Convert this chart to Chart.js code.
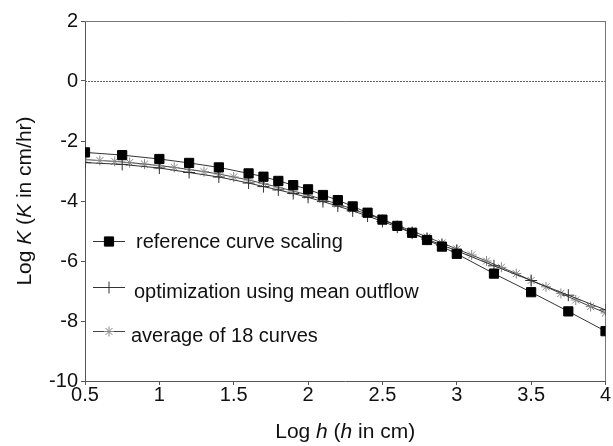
<!DOCTYPE html>
<html>
<head>
<meta charset="utf-8">
<script src="https://cdn.jsdelivr.net/npm/chart.js@4"></script>
<style>
  html, body { margin: 0; padding: 0; background: #fff; }
  #wrap { width: 613px; height: 446px; }
</style>
</head>
<body>
<div id="wrap"><canvas id="conductivityChart" width="613" height="446"></canvas></div>
<script>
// log h positions of the scaled reference curve and the optimized curve
const logH = [0.5, 0.75, 1.0, 1.2, 1.4, 1.6, 1.7, 1.8, 1.9, 2.0, 2.1, 2.2, 2.3, 2.4,
  2.5, 2.6, 2.7, 2.8, 2.9, 3.0, 3.25, 3.5, 3.75, 4.0];
const refScalingK = [-2.38, -2.47, -2.6, -2.73, -2.88, -3.08, -3.19, -3.33, -3.47, -3.61,
  -3.8, -3.97, -4.18, -4.39, -4.62, -4.83, -5.06, -5.3, -5.52, -5.76, -6.42, -7.04, -7.68, -8.34];
const meanOutflowK = [-2.72, -2.78, -2.9, -3.05, -3.2, -3.4, -3.52, -3.63, -3.75, -3.88,
  -4.02, -4.17, -4.33, -4.5, -4.68, -4.87, -5.07, -5.27, -5.47, -5.66, -6.16, -6.65, -7.14, -7.63];

// average of the 18 curves, every 0.1 in log h
const avgLogH = [0.5, 0.6, 0.7, 0.8, 0.9, 1.0, 1.1, 1.2, 1.3, 1.4, 1.5, 1.6, 1.7, 1.8,
  1.9, 2.0, 2.1, 2.2, 2.3, 2.4, 2.5, 2.6, 2.7, 2.8, 2.9, 3.0, 3.1, 3.2, 3.3, 3.4, 3.5,
  3.6, 3.7, 3.8, 3.9, 4.0];
const avgK = [-2.62, -2.65, -2.68, -2.72, -2.77, -2.82, -2.88, -2.95, -3.02, -3.1, -3.2,
  -3.3, -3.42, -3.54, -3.67, -3.8, -3.95, -4.1, -4.27, -4.44, -4.62, -4.81, -5.0, -5.2,
  -5.4, -5.6, -5.8, -6.0, -6.21, -6.42, -6.65, -6.86, -7.08, -7.3, -7.52, -7.73];

const xTicks = [0.5, 1, 1.5, 2, 2.5, 3, 3.5, 4];
const yTicks = [-10, -8, -6, -4, -2, 0, 2];

const seriesNames = ["reference curve scaling", "optimization using mean outflow", "average of 18 curves"];

const FONT = "'Liberation Sans', Arial, sans-serif";

const toPoints = (xs, ys) => xs.map((x, i) => ({ x: x, y: ys[i] }));

// draw a run of text pieces (some italic) centred on (cx, cy)
function drawParts(ctx, parts, cx, cy, size) {
    let total = 0;
    parts.forEach(p => {
        ctx.font = (p.italic ? "italic " : "") + size + "px " + FONT;
        p.w = ctx.measureText(p.text).width;
        total += p.w;
    });
    let x = cx - total / 2;
    ctx.textBaseline = "middle";
    ctx.textAlign = "left";
    parts.forEach(p => {
        ctx.font = (p.italic ? "italic " : "") + size + "px " + FONT;
        ctx.fillText(p.text, x, cy);
        x += p.w;
    });
}

const framePlugin = {
    id: "frame",
    beforeDatasetsDraw(chart) {
        const { ctx, chartArea: a, scales } = chart;
        const y0 = scales.y.getPixelForValue(0);
        ctx.save();
        // dotted zero line
        ctx.strokeStyle = "#666";
        ctx.lineWidth = 1;
        ctx.setLineDash([2, 1]);
        ctx.beginPath();
        ctx.moveTo(a.left, Math.round(y0) + 0.5);
        ctx.lineTo(a.right, Math.round(y0) + 0.5);
        ctx.stroke();
        // top and right frame
        ctx.setLineDash([]);
        ctx.strokeStyle = "#777";
        ctx.beginPath();
        ctx.moveTo(a.left, Math.round(a.top) + 0.5);
        ctx.lineTo(a.right, Math.round(a.top) + 0.5);
        ctx.moveTo(Math.round(a.right) - 0.5, a.top);
        ctx.lineTo(Math.round(a.right) - 0.5, a.bottom);
        ctx.stroke();
        ctx.restore();
    },
    afterDraw(chart) {
        const { ctx, chartArea: a } = chart;
        ctx.save();
        ctx.fillStyle = "#111";
        // axis titles
        drawParts(ctx, [{ text: "Log " }, { text: "h", italic: true }, { text: " (" },
            { text: "h", italic: true }, { text: " in cm)" }], (a.left + a.right) / 2, 432, 21);
        ctx.save();
        ctx.translate(25, (a.top + a.bottom) / 2);
        ctx.rotate(-Math.PI / 2);
        drawParts(ctx, [{ text: "Log " }, { text: "K", italic: true }, { text: " (" },
            { text: "K", italic: true }, { text: " in cm/hr)" }], 0, 0, 21);
        ctx.restore();

        // legend inside the plot
        const rows = [241, 287, 331];
        const textX = [136, 134, 131];
        chart.data.datasets.forEach((ds, i) => {
            const y = rows[i];
            ctx.strokeStyle = ds.borderColor;
            ctx.lineWidth = 1;
            ctx.beginPath();
            ctx.moveTo(93, y + 0.5);
            ctx.lineTo(125, y + 0.5);
            ctx.stroke();
            ctx.fillStyle = ds.pointBackgroundColor;
            ctx.strokeStyle = ds.pointBorderColor;
            ctx.lineWidth = 1;
            Chart.helpers.drawPoint(ctx, { pointStyle: ds.pointStyle, radius: ds.pointRadius, borderWidth: 1 }, 109, y + 0.5);
            ctx.fillStyle = "#111";
            ctx.font = "20px " + FONT;
            ctx.textAlign = "left";
            ctx.textBaseline = "middle";
            ctx.fillText(seriesNames[i], textX[i], y + (i === 0 ? 1 : 5));
        });
        ctx.restore();
    }
};

new Chart(document.getElementById("conductivityChart"), {
    type: "line",
    data: {
        datasets: [
            {
                label: seriesNames[0],
                data: toPoints(logH, refScalingK),
                borderColor: "#333",
                borderWidth: 1,
                pointStyle: "rect",
                pointRadius: 6.5,
                pointBackgroundColor: "#000",
                pointBorderColor: "#000",
                tension: 0
            },
            {
                label: seriesNames[1],
                data: toPoints(logH, meanOutflowK),
                borderColor: "#333",
                borderWidth: 1,
                pointStyle: "cross",
                pointRadius: 6,
                pointBackgroundColor: "#333",
                pointBorderColor: "#333",
                tension: 0
            },
            {
                label: seriesNames[2],
                data: toPoints(avgLogH, avgK),
                borderColor: "#444",
                borderWidth: 1,
                pointStyle: "star",
                pointRadius: 5,
                pointBackgroundColor: "#888",
                pointBorderColor: "#888",
                tension: 0
            }
        ]
    },
    options: {
        responsive: false,
        animation: false,
        events: [],
        layout: { padding: { top: 21, right: 6, left: 0, bottom: 0 } },
        plugins: {
            legend: { display: false },
            tooltip: { enabled: false }
        },
        scales: {
            x: {
                type: "linear",
                min: 0.5,
                max: 4,
                afterBuildTicks: axis => { axis.ticks = xTicks.map(v => ({ value: v })); },
                afterFit: axis => { axis.height = 65; },
                grid: { drawOnChartArea: false, tickLength: 4, color: "#555" },
                border: { color: "#555", width: 1 },
                ticks: {
                    color: "#111", padding: -2, maxRotation: 0,
                    font: { family: FONT, size: 20 },
                    callback: v => String(v)
                }
            },
            y: {
                type: "linear",
                min: -10,
                max: 2,
                afterBuildTicks: axis => { axis.ticks = yTicks.map(v => ({ value: v })); },
                afterFit: axis => { axis.width = 85; },
                grid: { drawOnChartArea: false, tickLength: 4, color: "#555" },
                border: { color: "#555", width: 1 },
                ticks: { color: "#111", padding: 3, font: { family: FONT, size: 20 } }
            }
        }
    },
    plugins: [framePlugin]
});
</script>
</body>
</html>
